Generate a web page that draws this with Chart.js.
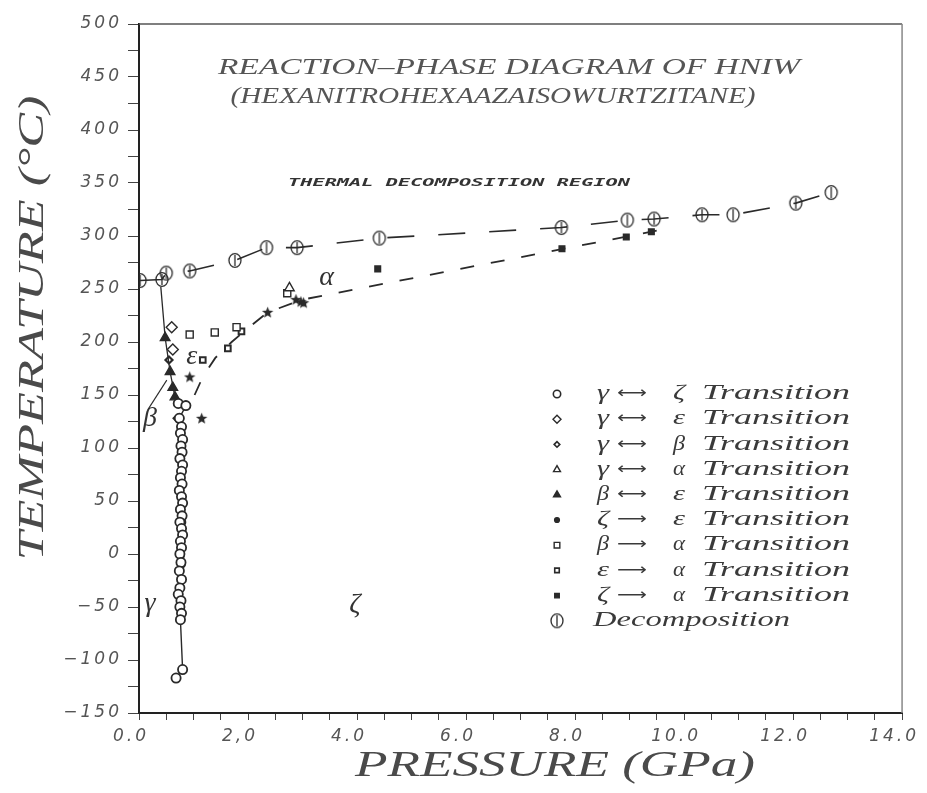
<!DOCTYPE html>
<html>
<head>
<meta charset="utf-8">
<script src="https://cdn.jsdelivr.net/npm/chart.js@4/dist/chart.umd.min.js"></script>
<style>
  body { margin: 0; background: #fff; }
  canvas { display: block; }
</style>
</head>
<body>
<canvas id="phaseChart" width="927" height="793"></canvas>
<script>
// Tick labels as printed on the plot
const xTickLabels = ['0.0', '2,0', '4.0', '6.0', '8.0', '10.0', '12.0', '14.0'];
const yTickLabels = ['−150', '−100', '−50', '0', '50', '100', '150', '200', '250', '300', '350', '400', '450', '500'];

// gamma <-> zeta (open circles), pressure GPa / temperature C
const gzP = [0.72, 0.86, 0.74, 0.78, 0.76, 0.8, 0.77, 0.79, 0.75, 0.8, 0.78, 0.76, 0.79, 0.74, 0.78, 0.8, 0.76, 0.79, 0.75, 0.78, 0.8, 0.76, 0.78, 0.75, 0.77, 0.74, 0.78, 0.75, 0.72, 0.77, 0.75, 0.78, 0.76, 0.8, 0.68];
const gzT = [142, 140, 128, 120, 114, 108, 102, 96, 90, 84, 78, 72, 66, 60, 54, 48, 42, 36, 30, 24, 18, 12, 6, 0, -8, -16, -24, -32, -38, -44, -50, -56, -62, -109, -117];
// gamma <-> epsilon (open diamonds)
const geP = [0.6, 0.62];
const geT = [214, 193];
// gamma <-> beta (small diamonds)
const gbP = [0.55, 0.7];
const gbT = [183, 128];
// gamma <-> alpha (open triangles)
const gaP = [2.76];
const gaT = [251];
// beta <-> epsilon (filled triangles)
const beP = [0.48, 0.57, 0.62, 0.66];
const beT = [204, 172, 157, 148];
// zeta -> epsilon (small dots)
const zeP = [0.77, 0.79, 0.76, 0.8];
const zeT = [-2, -10, -15, 30];
// beta -> alpha (open squares)
const baP = [0.93, 1.39, 1.79, 2.72];
const baT = [207, 209, 214, 246];
// epsilon -> alpha (small squares)
const eaP = [1.17, 1.63, 1.88];
const eaT = [183, 194, 210];
// zeta -> alpha (filled squares)
const zaP = [4.38, 7.76, 8.94, 9.4];
const zaT = [269, 288, 299, 304];
// Decomposition
const decP = [0.02, 0.42, 0.5, 0.93, 1.76, 2.34, 2.9, 4.41, 7.75, 8.96, 9.45, 10.33, 10.9, 12.05, 12.7];
const decT = [258, 259, 265, 267, 277, 289, 289, 298, 308, 315, 316, 320, 320, 331, 341];
// unlabelled stars on the alpha boundary
const starP = [0.93, 1.15, 2.36, 2.88, 2.97, 3.02];
const starT = [167, 128, 228, 240, 238, 237];
// boundary lines
const gbLineP = [0.4, 0.48, 0.57, 0.66];
const gbLineT = [252, 204, 172, 148];
const alphaLineP = [1.02, 1.17, 1.4, 1.7, 2.0, 2.36, 3.0, 9.5];
const alphaLineT = [150, 167, 185, 200, 213, 228, 240, 305];
// pointer from the beta label
const betaPointerP = [0.16, 0.51];
const betaPointerT = [136, 164];

const phaseLabels = [
  { text: 'α', p: 3.44, t: 261 },
  { text: 'ε', p: 0.97, t: 186 },
  { text: 'β', p: 0.2, t: 128 },
  { text: 'γ', p: 0.2, t: -47 },
  { text: 'ζ', p: 3.96, t: -48 }
];

const INK = '#2a2a2a';
const SERIF = '"Liberation Serif", "DejaVu Serif", serif';

function pts(xs, ys) {
  return xs.map((x, i) => ({ x: x, y: ys[i] }));
}

// decomposition marker: circle with a vertical bar
function makeDecompMarker() {
  const c = document.createElement('canvas');
  c.width = 16; c.height = 17;
  const g = c.getContext('2d');
  g.strokeStyle = INK;
  g.lineWidth = 1.3;
  g.beginPath();
  g.ellipse(8, 8.5, 6, 6.8, 0, 0, Math.PI * 2);
  g.stroke();
  g.beginPath();
  g.moveTo(8, 3);
  g.lineTo(8, 14);
  g.stroke();
  return c;
}

function makeStar() {
  const c = document.createElement('canvas');
  c.width = 13; c.height = 13;
  const g = c.getContext('2d');
  g.fillStyle = INK;
  g.beginPath();
  for (let i = 0; i < 10; i++) {
    const r = i % 2 === 0 ? 6 : 2.6;
    const a = -Math.PI / 2 + i * Math.PI / 5;
    g.lineTo(6.5 + r * Math.cos(a), 6.8 + r * Math.sin(a));
  }
  g.closePath();
  g.fill();
  return c;
}

const decompMarker = makeDecompMarker();
const starMarker = makeStar();

function markerSet(label, xs, ys, style, radius, filled, extra) {
  return Object.assign({
    label: label,
    data: pts(xs, ys),
    pointStyle: style,
    pointRadius: radius,
    pointHoverRadius: radius,
    pointBorderWidth: 1.4,
    borderColor: INK,
    pointBorderColor: INK,
    pointBackgroundColor: filled ? INK : '#fff',
    backgroundColor: filled ? INK : '#fff',
    showLine: false,
    inLegend: true
  }, extra || {});
}

function lineSet(xs, ys, dash, width) {
  return {
    label: '',
    data: pts(xs, ys),
    showLine: true,
    borderColor: INK,
    borderWidth: width,
    borderDash: dash,
    pointRadius: 0,
    inLegend: false
  };
}

const datasets = [
  lineSet(gbLineP, gbLineT, [], 1.3),
  lineSet(alphaLineP, alphaLineT, [14, 17], 1.8),
  lineSet(betaPointerP, betaPointerT, [], 1.1),
  markerSet('γ ⟷ ζ Transition', gzP, gzT, 'circle', 4.6, false, { showLine: true, borderWidth: 1.4, pointBorderWidth: 1.8 }),
  markerSet('γ ⟷ ε Transition', geP, geT, 'rectRot', 5.5, false),
  markerSet('γ ⟷ β Transition', gbP, gbT, 'rectRot', 3.5, false, { pointBorderWidth: 2.2 }),
  markerSet('γ ⟷ α Transition', gaP, gaT, 'triangle', 5.5, false),
  markerSet('β ⟷ ε Transition', beP, beT, 'triangle', 5.5, true),
  markerSet('ζ ⟶ ε Transition', zeP, zeT, 'circle', 3, true),
  markerSet('β ⟶ α Transition', baP, baT, 'rect', 5, false),
  markerSet('ε ⟶ α Transition', eaP, eaT, 'rect', 4, false, { pointBorderWidth: 2 }),
  markerSet('ζ ⟶ α Transition', zaP, zaT, 'rect', 4, true),
  markerSet('Decomposition', decP, decT, decompMarker, 8, false, { showLine: true, borderWidth: 1.6, borderDash: [27, 24] }),
  markerSet('', starP, starT, starMarker, 6, true, { inLegend: false })
];

// draw text stretched to a target width (plotter lettering is wide)
function drawFit(ctx, text, x, y, width, font, align) {
  ctx.font = font;
  const w = ctx.measureText(text).width;
  ctx.save();
  ctx.translate(x, y);
  ctx.scale(width / w, 1);
  ctx.textBaseline = 'middle';
  ctx.textAlign = 'left';
  ctx.fillText(text, align === 'center' ? -w / 2 : 0, 0);
  ctx.restore();
}

function drawMarker(ctx, ds, x, y) {
  ctx.save();
  ctx.strokeStyle = INK;
  ctx.fillStyle = ds.pointBackgroundColor;
  ctx.lineWidth = Math.min(ds.pointBorderWidth, 1.6);
  if (Chart.helpers && Chart.helpers.drawPoint) {
    Chart.helpers.drawPoint(ctx, { pointStyle: ds.pointStyle, radius: Math.min(ds.pointRadius, 5) * 0.8, borderWidth: ctx.lineWidth, rotation: 0 }, x, y);
  }
  ctx.restore();
}

const decorPlugin = {
  id: 'decor',
  beforeDraw(chart) {
    // wide plotter spacing for tick labels
    chart.ctx.letterSpacing = '3px';
  },
  beforeDatasetsDraw(chart) {
    chart.ctx.letterSpacing = '0px';
  },
  afterDraw(chart) {
    const ctx = chart.ctx;
    const a = chart.chartArea;
    const xs = chart.scales.x, ys = chart.scales.y;
    ctx.save();
    ctx.letterSpacing = '0px';
    // frame top and right
    ctx.strokeStyle = '#555';
    ctx.lineWidth = 1.5;
    ctx.beginPath();
    ctx.moveTo(a.left, a.top);
    ctx.lineTo(a.right, a.top);
    ctx.stroke();
    ctx.strokeStyle = '#888';
    ctx.beginPath();
    ctx.moveTo(a.right, a.top);
    ctx.lineTo(a.right, a.bottom);
    ctx.stroke();

    // titles
    ctx.fillStyle = '#555';
    drawFit(ctx, 'REACTION–PHASE DIAGRAM OF HNIW', 509, 68, 582, 'italic 24px ' + SERIF, 'center');
    drawFit(ctx, '(HEXANITROHEXAAZAISOWURTZITANE)', 493, 97, 525, 'italic 23px ' + SERIF, 'center');
    ctx.fillStyle = '#333';
    drawFit(ctx, 'THERMAL DECOMPOSITION REGION', 459, 183, 342, 'italic bold 11px "DejaVu Sans Mono", monospace', 'center');

    // axis titles
    ctx.fillStyle = '#4a4a4a';
    drawFit(ctx, 'PRESSURE (GPa)', 555, 767, 400, 'italic 36px ' + SERIF, 'center');
    ctx.save();
    ctx.translate(34, 328);
    ctx.rotate(-Math.PI / 2);
    drawFit(ctx, 'TEMPERATURE (°C)', 0, 0, 465, 'italic 36px ' + SERIF, 'center');
    ctx.restore();

    // phase labels
    ctx.fillStyle = '#333';
    phaseLabels.forEach(l => {
      ctx.font = 'italic 28px ' + SERIF;
      ctx.textAlign = 'center';
      ctx.textBaseline = 'middle';
      ctx.fillText(l.text, xs.getPixelForValue(l.p), ys.getPixelForValue(l.t));
    });

    // legend
    const items = chart.data.datasets.filter(d => d.inLegend);
    const font = 'italic 20px ' + SERIF;
    items.forEach((ds, i) => {
      const y = 394 + i * 25.2;
      drawMarker(ctx, ds, 557, y);
      ctx.fillStyle = '#3a3a3a';
      const parts = ds.label.split(' ');
      if (parts.length === 1) {
        drawFit(ctx, parts[0], 593, y, 197, font, 'left');
      } else {
        drawFit(ctx, parts[0], 597, y, 12, font, 'left');
        drawFit(ctx, parts[1], 617, y, 30, 'italic 16px "DejaVu Sans", sans-serif', 'left');
        drawFit(ctx, parts[2], 673, y, 12, font, 'left');
        drawFit(ctx, parts[3], 702, y, 148, font, 'left');
      }
    });
    ctx.restore();
  }
};

new Chart(document.getElementById('phaseChart').getContext('2d'), {
  type: 'scatter',
  data: { datasets: datasets },
  options: {
    responsive: false,
    animation: false,
    layout: { padding: { left: 0, top: 24, right: 24, bottom: 0 } },
    plugins: { legend: { display: false }, tooltip: { enabled: false } },
    scales: {
      x: {
        type: 'linear',
        min: 0,
        max: 14,
        afterFit(scale) { scale.height = 80; },
        border: { display: true, color: '#222', width: 2 },
        grid: { drawOnChartArea: false, drawTicks: true, tickLength: 7, color: '#444' },
        ticks: {
          stepSize: 0.5,
          autoSkip: false,
          maxRotation: 0,
          padding: 6,
          labelOffset: -8,
          color: '#555',
          font: { family: '"DejaVu Sans", sans-serif', style: 'italic', size: 17 },
          callback: (v) => (Math.abs(v % 2) < 1e-9 ? xTickLabels[Math.round(v / 2)] : '')
        }
      },
      y: {
        type: 'linear',
        min: -150,
        max: 500,
        afterFit(scale) { scale.width = 139; },
        border: { display: true, color: '#222', width: 2 },
        grid: { drawOnChartArea: false, drawTicks: true, tickLength: 11, color: '#444' },
        ticks: {
          stepSize: 25,
          autoSkip: false,
          padding: 6,
          color: '#555',
          font: { family: '"DejaVu Sans", sans-serif', style: 'italic', size: 17 },
          callback: (v) => (v % 50 === 0 ? yTickLabels[(v + 150) / 50] : '')
        }
      }
    }
  },
  plugins: [decorPlugin]
});
</script>
</body>
</html>
